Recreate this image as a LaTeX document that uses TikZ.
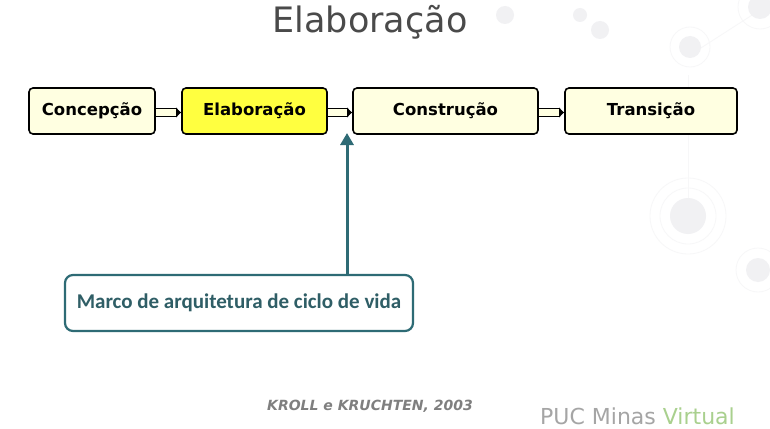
\documentclass[tikz,border=0pt]{standalone}
\usepackage{fontspec}
\setmainfont{DejaVu Sans}
\newfontfamily\boxfont{DejaVu Sans}
\newfontfamily\calfont{Carlito}
\usetikzlibrary{arrows.meta}
\definecolor{cream}{HTML}{FFFFE1}
\definecolor{hiyel}{HTML}{FFFF40}
\definecolor{tealc}{HTML}{2E6B75}
\definecolor{tealt}{HTML}{2F5E66}
\definecolor{titlec}{HTML}{4A4A4A}
\definecolor{citec}{HTML}{7F7F7F}
\definecolor{decoc}{HTML}{F1F1F3}
\definecolor{greenc}{HTML}{A9D08E}
\tikzset{
  phase/.style={draw=black, line width=1.6pt, rounded corners=4pt, fill=cream,
    minimum height=46pt, inner sep=0pt, font=\boxfont\bfseries\fontsize{16.5}{18}\selectfont},
  dbl/.style={draw=black, line width=1.4pt, double=cream, double distance=6.5pt,
    -{Latex[length=5pt,width=11pt]}},
  callout/.style={draw=tealc, line width=2.2pt, rounded corners=8pt, fill=white,
    minimum width=348pt, minimum height=56pt, inner sep=0pt,
    text=tealt, font=\calfont\bfseries\fontsize{21}{23}\selectfont},
  tealarrow/.style={draw=tealc, line width=3pt, -{Triangle[length=12pt,width=13pt]}},
  deco/.style={fill=decoc, draw=none},
  decoring/.style={draw=decoc!60!white, line width=0.8pt}
}
\begin{document}
\begin{tikzpicture}[x=1pt,y=-1pt]
\useasboundingbox (0,0) rectangle (770,428);
\fill[white] (0,0) rectangle (770,428);
% faint background decoration
\begin{scope}
\clip (0,0) rectangle (770,428);
\draw[decoring] (690,55) -- (760,10);
\draw[decoring] (688,75) -- (688,210);
\fill[deco] (690,47) circle (11);
\draw[decoring] (690,47) circle (20);
\fill[deco] (760,7) circle (12);
\draw[decoring] (760,7) circle (22);
\fill[deco] (600,30) circle (9);
\fill[deco] (505,15) circle (9);
\fill[deco] (688,216) circle (18);
\draw[decoring] (688,216) circle (28);
\draw[decoring] (688,216) circle (38);
\fill[deco] (758,270) circle (12);
\draw[decoring] (758,270) circle (22);
\fill[deco] (580,15) circle (7);
\end{scope}
% title
\node[text=titlec, font=\fontsize{35}{40}\selectfont] (title) at (370,22) {Elaboração};
% phases
\node[phase, minimum width=126pt] (conc) at (92,111) {Concepção};
\node[phase, minimum width=145pt, fill=hiyel] (elab) at (254.5,111) {Elaboração};
\node[phase, minimum width=185pt] (cons) at (445.5,111) {Construção};
\node[phase, minimum width=172pt] (tran) at (651,111) {Transição};
\draw[dbl] ([yshift=-1.5pt]conc.east) -- ([yshift=-1.5pt]elab.west);
\draw[dbl] ([yshift=-1.5pt]elab.east) -- ([yshift=-1.5pt]cons.west);
\draw[dbl] ([yshift=-1.5pt]cons.east) -- ([yshift=-1.5pt]tran.west);
% callout
\node[callout] (marco) at (239,303) {Marco de arquitetura de ciclo de vida};
\coordinate (tip) at (347,133);
\draw[tealarrow] (marco.north -| tip) -- (tip);
% citation
\node[text=citec, font=\bfseries\itshape\fontsize{14}{16}\selectfont] (cite) at (370,406) {KROLL e KRUCHTEN, 2003};
% logo
\node[anchor=base west, inner sep=0pt, font=\fontsize{22}{26}\selectfont] (logo) at (540,424) {\textcolor{citec!70!white}{PUC Minas }\textcolor{greenc}{Virtual}};
\end{tikzpicture}
\end{document}
